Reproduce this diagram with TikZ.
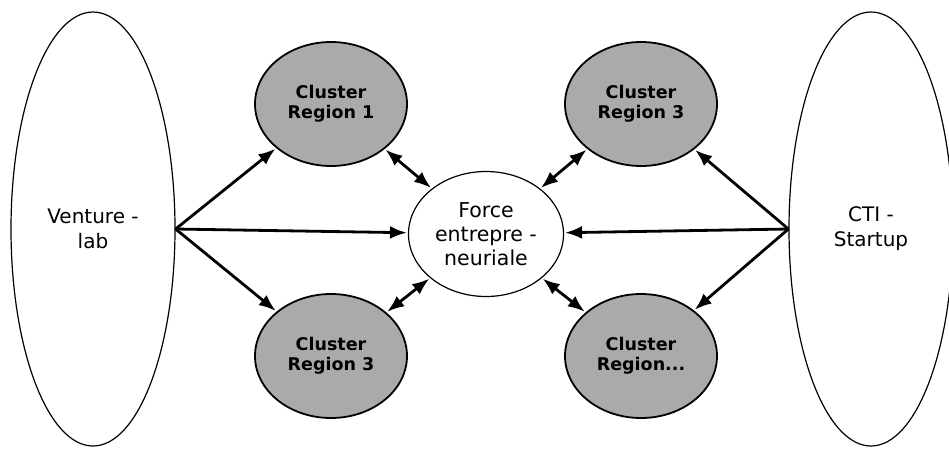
\documentclass[tikz,border=0pt]{standalone}
\usepackage{fontspec}
\setmainfont{DejaVu Sans}
\usetikzlibrary{positioning,arrows.meta,shapes.geometric}
\definecolor{clustergray}{RGB}{170,170,170}

\begin{document}
\begin{tikzpicture}[x=1pt,y=-1pt,->,>={Latex[length=17pt,width=13pt]},shorten >=1pt,
  line width=2.8pt,line join=round,
  side node/.style={ellipse,draw,line width=1.2pt,inner sep=0pt,minimum width=164pt,
    minimum height=434pt,align=center,font=\fontsize{20}{25}\selectfont},
  cluster node/.style={ellipse,draw,fill=clustergray,line width=1.8pt,inner sep=0pt,
    minimum width=152pt,minimum height=124pt,align=center,font=\fontsize{17.5}{20}\selectfont\bfseries},
  main node/.style={ellipse,draw,line width=1.2pt,inner sep=0pt,minimum width=155pt,
    minimum height=125pt,align=center,font=\fontsize{20.5}{24}\selectfont}]
  \useasboundingbox (0,0) rectangle (949,448);

  \node[side node] (1) at (93,229) {Venture -\\lab};
  \node[side node] (7) at (871,229) {CTI -\\Startup};
  \node[main node] (4) at (486,234) {Force\\entrepre -\\neuriale};
  \node[cluster node] (2) at (331,104) {Cluster\\Region 1};
  \node[cluster node] (3) at (331,356) {Cluster\\Region 3};
  \node[cluster node] (5) at (641,104) {Cluster\\Region 3};
  \node[cluster node] (6) at (641,356) {Cluster\\Region...};

  \path
    (1.east) edge (2)
    (1.east) edge (4)
    (1.east) edge (3)
    (7.west) edge (5)
    (7.west) edge (4)
    (7.west) edge (6);
  \path[<->,shorten <=1pt]
    (2) edge (4)
    (3) edge (4)
    (5) edge (4)
    (6) edge (4);
\end{tikzpicture}
\end{document}
